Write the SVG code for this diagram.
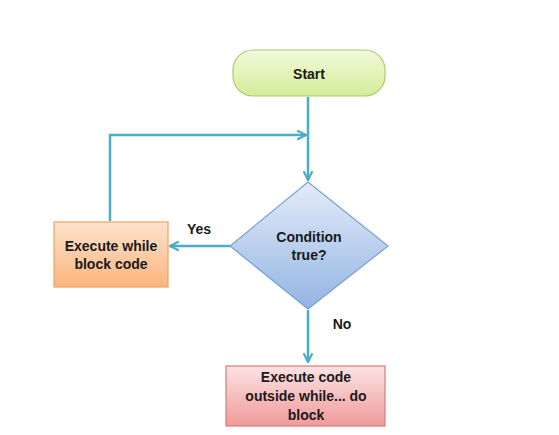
<svg xmlns="http://www.w3.org/2000/svg" width="559" height="435" viewBox="0 0 559 435">
<style>
.t{font-family:"Liberation Sans",Arial,sans-serif;font-weight:bold;font-size:14px;fill:#1a1a1a;text-anchor:middle}
.c{fill:none;stroke:#4BACC6;stroke-width:2.5}
</style>
<defs>
<linearGradient id="gStart" x1="0" y1="0" x2="0" y2="1"><stop offset="0" stop-color="#F2FADC"/><stop offset="1" stop-color="#D4EC98"/></linearGradient>
<linearGradient id="gOr" x1="0" y1="0" x2="0" y2="1"><stop offset="0" stop-color="#FDE3CE"/><stop offset="1" stop-color="#FAB57D"/></linearGradient>
<linearGradient id="gDia" x1="0" y1="0" x2="0" y2="1"><stop offset="0" stop-color="#E3ECF8"/><stop offset="1" stop-color="#93B4E3"/></linearGradient>
<linearGradient id="gPink" x1="0" y1="0" x2="0" y2="1"><stop offset="0" stop-color="#FBE3E3"/><stop offset="1" stop-color="#F09A9A"/></linearGradient>
<marker id="arr" viewBox="0 0 10 10" refX="9" refY="5" markerWidth="4.4" markerHeight="4.4" orient="auto" markerUnits="strokeWidth">
<path d="M1,1 L9,5 L1,9" fill="none" stroke="#4BACC6" stroke-width="2"/>
</marker>
</defs>
<rect width="559" height="435" fill="#fff"/>
<g id="connectors">
<path class="c" d="M308,97 V180" marker-end="url(#arr)"/>
<path class="c" d="M110,221 V135 H306" marker-end="url(#arr)"/>
<path class="c" d="M230,246 H170" marker-end="url(#arr)"/>
<path class="c" d="M308,310 V362" marker-end="url(#arr)"/>
<text class="t" x="199" y="234">Yes</text>
<text class="t" x="342" y="329">No</text>
</g>
<g id="start">
<rect x="233" y="50" width="152" height="46" rx="20" fill="url(#gStart)" stroke="#A9CB6B" stroke-width="1.2"/>
<text class="t" x="309" y="79">Start</text>
</g>
<g id="condition">
<polygon points="308,182 388,246 308,309 230,246" fill="url(#gDia)" stroke="#7A9FD4" stroke-width="1.2"/>
<text class="t" x="309" y="242">Condition</text>
<text class="t" x="309" y="260">true?</text>
</g>
<g id="loop">
<rect x="54" y="222" width="114" height="65" fill="url(#gOr)" stroke="#F4A261" stroke-width="1.2"/>
<text class="t" x="111" y="251">Execute while</text>
<text class="t" x="111" y="269">block code</text>
</g>
<g id="after">
<rect x="226" y="366" width="159" height="60" fill="url(#gPink)" stroke="#D77A7A" stroke-width="1.2"/>
<text class="t" x="306" y="382">Execute code</text>
<text class="t" x="306" y="401">outside while... do</text>
<text class="t" x="306" y="420">block</text>
</g>
</svg>
